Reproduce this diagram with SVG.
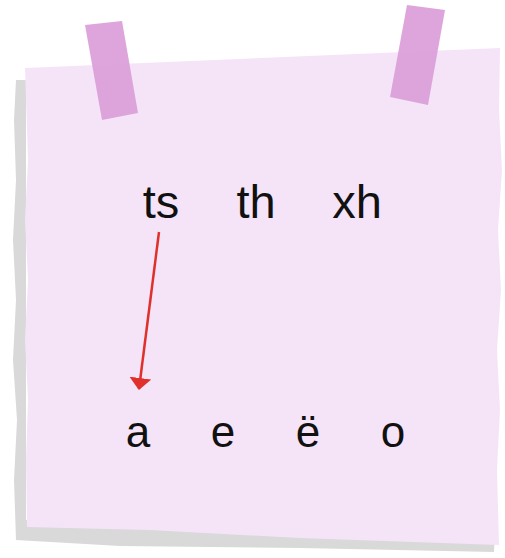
<svg xmlns="http://www.w3.org/2000/svg" width="505" height="558" viewBox="0 0 505 558">
  <defs>
    <style>
      .lbl { font-family: "Liberation Sans", "DejaVu Sans", sans-serif; font-size: 47px; fill: #111; text-anchor: middle; }
      .vow { font-family: "Liberation Sans", "DejaVu Sans", sans-serif; font-size: 44px; fill: #111; text-anchor: middle; }
      .tape { fill: #dba0d9; opacity: 0.95; }
      .arrow { stroke: #e0302c; stroke-width: 2.5; fill: none; }
    </style>
    <marker id="ah" viewBox="0 0 12 22" refX="11" refY="11" markerWidth="4.8" markerHeight="8.8" orient="auto" markerUnits="strokeWidth">
      <path d="M0,0 L12,11 L0,22 z" fill="#e0302c"/>
    </marker>
  </defs>
  <rect width="505" height="558" fill="#ffffff"/>
  <g id="shadow">
    <path d="M16,80 L26,80 L26,520 L495,530 L494,552 L300,548 L120,546 L16,540 L14,480 L17,420 L13,360 L16,300 L13,240 L16,180 L14,120 Z" fill="#d9d9d9"/>
  </g>
  <g id="paper">
    <path d="M25,68 L500,48 L499,110 L502,170 L498,230 L501,290 L497,350 L500,410 L497,470 L499,545 L300,538 L150,530 L27,527 L26,460 L28,400 L25,340 L28,280 L25,220 L28,160 Z" fill="#f5e4f8"/>
  </g>
  <g id="tape-left">
    <polygon class="tape" points="85,25 122,21 138,113 102,120"/>
  </g>
  <g id="tape-right">
    <polygon class="tape" points="407,5 445,10 428,105 390,97"/>
  </g>
  <g id="node-ts"><text class="lbl" x="161" y="218">ts</text></g>
  <g id="node-th"><text class="lbl" x="256" y="218">th</text></g>
  <g id="node-xh"><text class="lbl" x="357" y="218">xh</text></g>
  <g id="node-a"><text class="vow" x="138" y="447">a</text></g>
  <g id="node-e"><text class="vow" x="223" y="447">e</text></g>
  <g id="node-e-umlaut"><text class="vow" x="308" y="447">ë</text></g>
  <g id="node-o"><text class="vow" x="393" y="447">o</text></g>
  <g id="connectors">
    <line class="arrow" x1="159" y1="232" x2="139" y2="389" marker-end="url(#ah)"/>
  </g>
</svg>
